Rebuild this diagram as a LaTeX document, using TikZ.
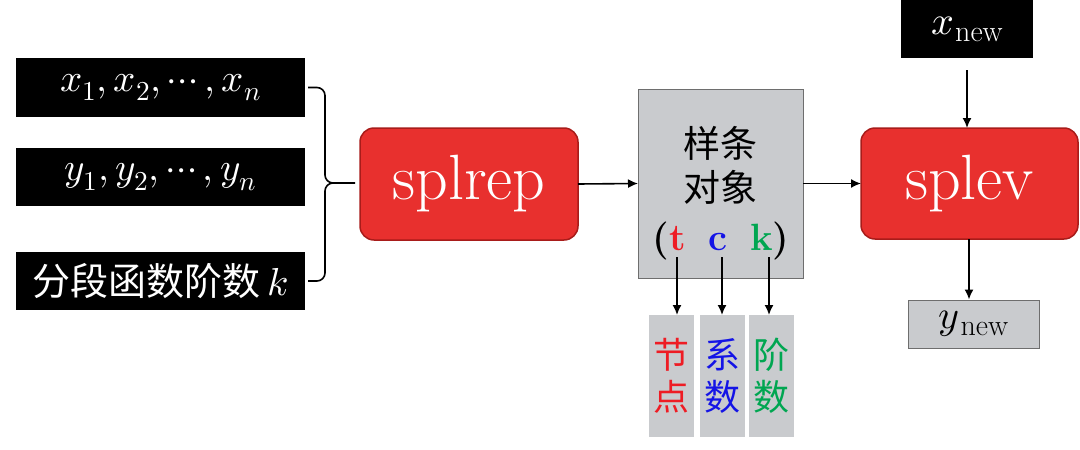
\documentclass[tikz,border=0pt]{standalone}
\usepackage{fontspec}
\usepackage{unicode-math}
\setmathfont{Latin Modern Math}
\newfontfamily\cjk{Noto Sans CJK SC}
\usetikzlibrary{arrows.meta}
\definecolor{boxred}{HTML}{E8302E}
\definecolor{boxredd}{HTML}{A81C1A}
\definecolor{boxgray}{HTML}{C9CBCE}
\definecolor{grayline}{HTML}{6E6E6E}
\definecolor{kgreen}{HTML}{00A651}
\definecolor{tred}{HTML}{EE1C24}
\definecolor{cblue}{HTML}{1414E6}
\newcommand{\subnew}[1]{$#1$\kern1pt\raisebox{-7pt}{\fontsize{30}{30}\selectfont new}}
\tikzset{
  blk/.style={fill=black, text=white, inner sep=0pt, outer sep=0pt},
  redbox/.style={fill=boxred, draw=boxredd, line width=1.5pt, rounded corners=14pt, text=white, inner sep=0pt, outer sep=0pt, font=\fontsize{64}{64}\selectfont},
  graybox/.style={fill=boxgray, draw=grayline, line width=1pt, inner sep=0pt, outer sep=0pt},
  smallgray/.style={fill=boxgray, inner sep=0pt, outer sep=0pt, minimum width=45pt, minimum height=122pt, align=center, font=\cjk\fontsize{36}{42}\selectfont},
  arr/.style={-{Latex[length=10pt,width=9pt]}, line width=1.6pt},
  ln/.style={line width=1.6pt}
}
\begin{document}
\begin{tikzpicture}[x=1pt,y=-1pt]
\useasboundingbox (0,0) rectangle (1080,450);
% left input boxes
\node[blk, minimum width=289pt, minimum height=59pt, font=\fontsize{39}{39}\selectfont] (xs) at (160.5,87.5) {$x_1,x_2,\cdots,x_n$};
\node[blk, minimum width=289pt, minimum height=58pt, font=\fontsize{39}{39}\selectfont] (ys) at (160.5,177) {$y_1,y_2,\cdots,y_n$};
\node[blk, minimum width=289pt, minimum height=58pt, font=\cjk\fontsize{38}{38}\selectfont] (ks) at (160.5,281) {分段函数阶数\,\fontsize{39}{39}\selectfont$k$};
% brace
\coordinate (tip) at (355,183);
\draw[ln, rounded corners=8pt] (xs.east) ++(3,0) -| (325,183) -- (tip);
\draw[ln, rounded corners=8pt] (ks.east) ++(3,0) -| (325,183) -- (334,183);
% splrep
\node[redbox, minimum width=218pt, minimum height=112pt] (rep) at (469,184) {splrep};
% spline object
\node[graybox, minimum width=165pt, minimum height=189pt] (obj) at (720.5,183.5) {};
\node[font=\cjk\fontsize{37}{44}\selectfont, align=center, inner sep=0pt] (objt) at (720.5,165) {样条\\对象};
\node[font=\fontsize{38}{38}\selectfont\bfseries, inner sep=0pt, anchor=base] (tck) at (721,250) {(\textcolor{tred}{t}\hspace{0.6em}\textcolor{cblue}{c}\hspace{0.6em}\textcolor{kgreen}{k})};
\coordinate (ta) at (677,257);
\coordinate (ca) at (722,257);
\coordinate (ka) at (769,257);
\node[smallgray, text=tred] (jd) at (671.5,376) {节\\点};
\node[smallgray, text=cblue] (xish) at (722.5,376) {系\\数};
\node[smallgray, text=kgreen] (jsh) at (771,376) {阶\\数};
\draw[arr] (ta) -- (ta |- jd.north);
\draw[arr] (ca) -- (ca |- xish.north);
\draw[arr] (ka) -- (ka |- jsh.north);
% splev
\node[redbox, minimum width=217pt, minimum height=111pt] (ev) at (969.5,183.5) {splev};
\node[blk, minimum width=132pt, minimum height=58pt, font=\fontsize{40}{40}\selectfont] (xn) at (967,29) {\subnew{x}};
\node[graybox, line width=0.8pt, minimum width=131pt, minimum height=48pt, font=\fontsize{40}{40}\selectfont] (yn) at (973.5,324) {\subnew{y}};
\coordinate (xnstart) at (967,70);
\draw[arr] (rep.east) -- (obj.west);
\draw[arr] (obj.east) -- (ev.west);
\draw[arr] (xnstart) -- (xnstart |- ev.north);
\draw[arr] (969,239) -- (969,299.5);
\end{tikzpicture}
\end{document}
